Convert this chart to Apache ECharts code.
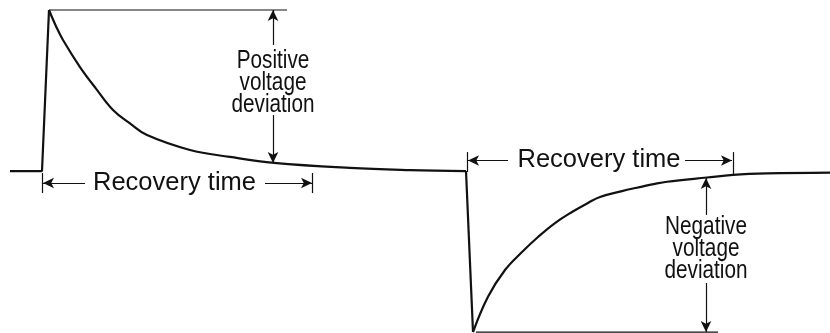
<!DOCTYPE html>
<html>
<head>
<meta charset="utf-8">
<script src="https://cdn.jsdelivr.net/npm/echarts@6/dist/echarts.min.js"></script>
<style>
  html, body { margin: 0; padding: 0; background: #fff; }
  #chart { width: 830px; height: 333px; }
</style>
</head>
<body>
<div id="chart"></div>
<script>
  // time in arbitrary units, voltage as % of the peak deviation
  const riseEdge = [[1.0, 0.6], [4.2, 0.6], [4.9, 100]]
  const decayCurve = [[4.9, 100], [5.6, 90], [6.3, 81.5], [8.0, 64.8], [9.6, 51.5], [11.3, 38.3],
    [13.0, 30], [14.7, 22.8], [19.0, 13.6], [23.0, 9.3], [27.4, 5.6], [35.0, 2.5], [41.0, 1.2], [46.6, 0.6]]
  const dropEdge = [[46.6, 0.6], [47.3, -98.8]]
  const recoveryCurve = [[47.3, -98.8], [48.8, -77], [50.5, -60.5], [52.2, -49.4], [53.8, -40.1],
    [55.5, -31.5], [57.2, -24.7], [58.8, -19.1], [60.0, -15.4], [62.2, -11.8], [63.3, -10.2],
    [65.5, -7.3], [66.7, -6.0], [70.7, -3.4], [73.3, -1.8], [76.7, -0.9], [83.0, -0.4]]

  const peakRef = [[4.9, 100], [28.7, 100]]
  const dipRef = [[47.6, -98.8], [71.8, -98.8]]

  // dimension arrows: [from, to(arrow tip)]
  const arrows = [
    [[27.3, 78.4], [27.3, 100]],
    [[27.3, 35.2], [27.3, 5.6]],
    [[70.6, -26.5], [70.6, -3.7]],
    [[70.6, -68.5], [70.6, -98.8]],
    [[8.5, -6.8], [4.3, -6.8]],
    [[26.5, -6.8], [31.2, -6.8]],
    [[50.8, 7.1], [46.8, 7.1]],
    [[68.5, 7.1], [73.2, 7.1]]
  ]
  const ticks = [
    [[4.25, -0.6], [4.25, -13]],
    [[31.2, -0.6], [31.2, -13]],
    [[46.7, 12.3], [46.7, 0]],
    [[73.3, 12.3], [73.3, -1.2]]
  ]

  const recoveryLabels = [[17.45, -6.8, 'Recovery time'], [59.9, 7.2, 'Recovery time']]
  const deviationLabels = [[27.3, 54.9, 'Positive\nvoltage\ndeviation'], [70.6, -47.5, 'Negative\nvoltage\ndeviation']]

  const ink = '#111'

  let myecharts = echarts.init(document.getElementById('chart'))

  function wave (data, smooth) {
    return {
      type: 'line',
      data: data,
      smooth: smooth,
      showSymbol: false,
      symbol: 'none',
      lineStyle: { color: ink, width: 2.2 },
      silent: true
    }
  }

  function thin (data) {
    return {
      type: 'line',
      data: data,
      showSymbol: false,
      symbol: 'none',
      lineStyle: { color: ink, width: 1.2 },
      silent: true
    }
  }

  let option = {
    animation: false,
    backgroundColor: '#fff',
    grid: { left: 0, right: 0, top: 0, bottom: 0 },
    xAxis: { type: 'value', min: 0, max: 83, show: false },
    yAxis: { type: 'value', min: -99.38, max: 106.17, show: false },
    series: [
      wave(riseEdge, false),
      wave(decayCurve, 0.4),
      wave(dropEdge, false),
      wave(recoveryCurve, 0.4),
      thin(peakRef),
      thin(dipRef),
      {
        type: 'line',
        data: [],
        silent: true,
        markLine: {
          silent: true,
          animation: false,
          symbolSize: [8, 11],
          label: { show: false },
          lineStyle: { color: ink, width: 1.2, type: 'solid' },
          data: arrows.map(a => [
            { coord: a[0], symbol: 'none' },
            { coord: a[1], symbol: 'arrow' }
          ]).concat(ticks.map(t => [
            { coord: t[0], symbol: 'none' },
            { coord: t[1], symbol: 'none' }
          ]))
        }
      }
    ]
  }

  myecharts.setOption(option)

  // text notes placed through the grid's scales
  function note (d, font, scaleX, lineHeight) {
    let p = myecharts.convertToPixel({ gridIndex: 0 }, [d[0], d[1]])
    return {
      type: 'text',
      x: p[0],
      y: p[1],
      scaleX: scaleX,
      silent: true,
      style: {
        text: d[2],
        fill: ink,
        font: font,
        lineHeight: lineHeight,
        align: 'center',
        verticalAlign: 'middle'
      }
    }
  }

  myecharts.setOption({
    graphic: recoveryLabels.map(d => note(d, '25.5px "Liberation Sans", Arial, sans-serif', 1, 30))
      // the deviation notes use a condensed face: squeeze regular text horizontally
      .concat(deviationLabels.map(d => note(d, '25px "Liberation Sans", Arial, sans-serif', 0.83, 22)))
  })
</script>
</body>
</html>
